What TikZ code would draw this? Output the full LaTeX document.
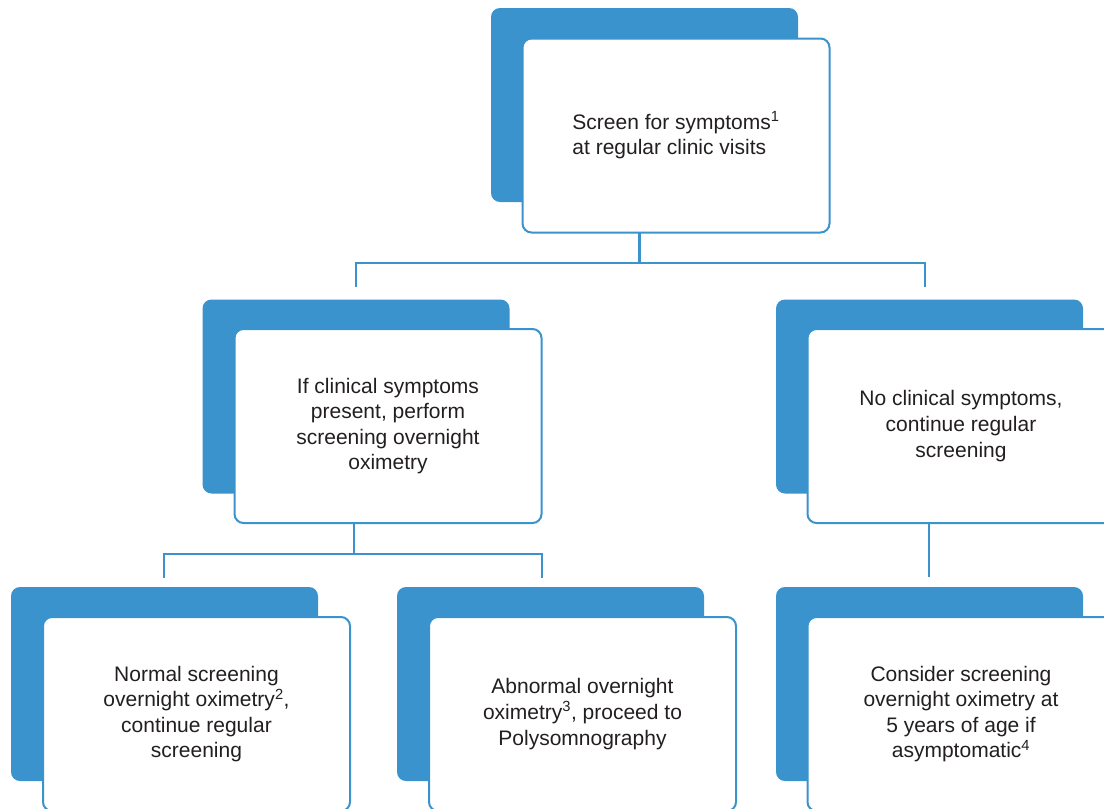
\documentclass[tikz,border=0pt]{standalone}
\usepackage{fontspec}
\setmainfont{Liberation Sans}
\definecolor{myblue}{HTML}{3B93CE}
\definecolor{mytext}{HTML}{231F20}
\begin{document}
\begin{tikzpicture}[x=1pt,y=-1pt,
  backbox/.style={fill=myblue,draw=none,rounded corners=9pt,minimum width=307pt,minimum height=194pt,inner sep=0pt,outer sep=0pt},
  frontbox/.style={fill=white,draw=myblue,line width=2pt,rounded corners=9pt,minimum width=307pt,minimum height=194pt,inner sep=0pt,outer sep=0pt,
    text=mytext,align=center,font=\fontsize{21}{25.6}\selectfont},
  conn/.style={draw=myblue,line width=2.2pt}]
\useasboundingbox (0,0) rectangle (1104,809);
\clip (0,0) rectangle (1104,809);
\fill[white] (0,0) rectangle (1104,809);

% back boxes
\node[backbox] (topb) at (644.5,105) {};
\node[backbox] (mlb) at (356,396.5) {};
\node[backbox] (mrb) at (929.5,396.5) {};
\node[backbox] (blb) at (164.5,684) {};
\node[backbox] (bmb) at (550.5,684) {};
\node[backbox] (brb) at (929.5,684) {};

% front boxes
\node[frontbox,align=left] (top) at (676,135.5) {Screen for symptoms\textsuperscript{1}\\at regular clinic visits};
\node[frontbox] (ml) at (388,426) {If clinical symptoms\\present, perform\\screening overnight\\oximetry};
\node[frontbox] (mr) at (961,426) {No clinical symptoms,\\continue regular\\screening};
\node[frontbox] (bl) at (196.5,714) {Normal screening\\overnight oximetry\textsuperscript{2},\\continue regular\\screening};
\node[frontbox] (bm) at (582.5,714) {Abnormal overnight\\oximetry\textsuperscript{3}, proceed to\\Polysomnography};
\node[frontbox] (br) at (961,714) {Consider screening\\overnight oximetry at\\5 years of age if\\asymptomatic\textsuperscript{4}};

% connectors
\coordinate (j1) at (639.5,263);
\coordinate (e1) at (356,287);
\coordinate (e2) at (925,287);
\draw[conn] (top.south -| j1) -- (j1);
\draw[conn] (e1) |- (j1) -| (e2);

\coordinate (j2) at (354,554);
\coordinate (e3) at (164,578);
\coordinate (e4) at (542,578);
\draw[conn] (ml.south -| j2) -- (j2);
\draw[conn] (e3) |- (j2) -| (e4);

\coordinate (e5) at (929,577);
\draw[conn] (mr.south -| e5) -- (e5);
\end{tikzpicture}
\end{document}
